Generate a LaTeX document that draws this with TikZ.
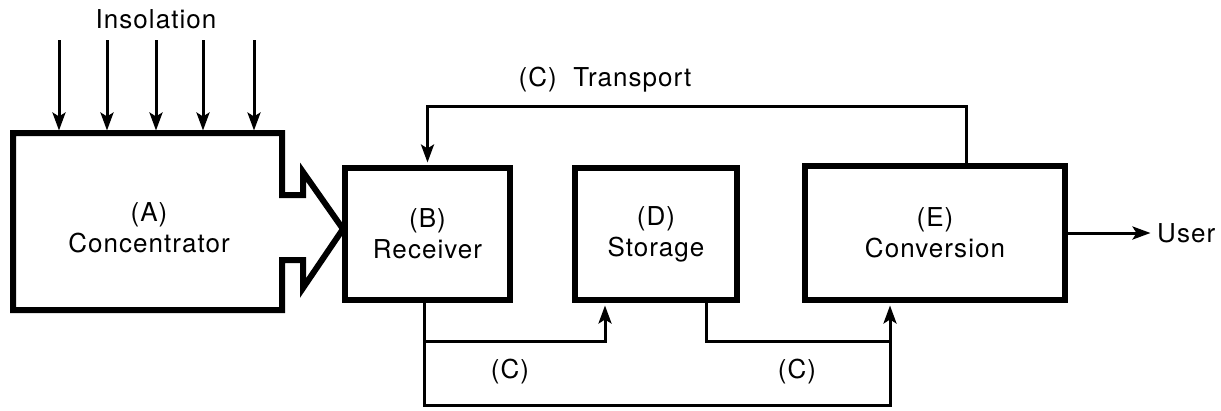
\documentclass[tikz,border=0pt]{standalone}
\usepackage{fontspec}
\setmainfont{TeX Gyre Heros}[LetterSpace=4]
\usetikzlibrary{arrows.meta}

\tikzset{
  box/.style={draw, line width=6pt, line join=miter, inner sep=0pt, align=center,
              font=\fontsize{26}{31}\selectfont},
  lbl/.style={inner sep=0pt, align=center, font=\fontsize{26}{31}\selectfont},
  wire/.style={line width=3pt, line join=miter},
  flow/.style={wire, shorten >=2.5pt, -{Stealth[length=18pt,width=13pt,inset=4pt]}},
}

\begin{document}
\begin{tikzpicture}[x=1pt,y=-1pt]
\useasboundingbox (0,0) rectangle (1221,410);

% concentrator outline with its funnel toward the receiver
\draw[line width=6pt, line join=miter]
  (13,133) -- (282,133) -- (282,195) -- (303,195) -- (303,172) -- (343,229)
  -- (303,288) -- (303,260) -- (282,260) -- (282,310) -- (13,310) -- cycle;
\node[lbl] (A) at (149,228) {(A)\\Concentrator};

% blocks
\node[box, minimum width=165pt, minimum height=132pt] (B) at (427.5,234) {(B)\\Receiver};
\node[box, minimum width=162pt, minimum height=132pt] (D) at (656,234) {(D)\\Storage};
\node[box, minimum width=260pt, minimum height=134pt] (E) at (935,233) {(E)\\Conversion};

% insolation
\node[lbl] (ins) at (156,19) {Insolation};
\foreach \x [count=\i] in {59,107,156,203,254} {
  \coordinate (s\i) at (\x,40);
  \coordinate (t\i) at (\x,133);
  \draw[flow] (s\i) -- (t\i);
}

% transport loop from conversion back to receiver
\node[lbl] (tr) at (605,80) {(C)\ \ Transport};
\draw[flow] ([xshift=31pt]E.north) -- ++(0,-57) -| (B.north);

% output to the user
\node[lbl, anchor=west] (U) at (1157,233) {User};
\draw[flow] (E.east) -- ([xshift=-4pt]U.west);

% lower transport lines
\coordinate (bo) at ([xshift=-3.5pt]B.south);
\coordinate (bb) at (424,405);
\coordinate (bm) at (424,341);
\coordinate (din) at ([xshift=-51pt]D.south);
\coordinate (dout) at ([xshift=50pt]D.south);
\coordinate (ein) at ([xshift=-45pt]E.south);
\coordinate (ej) at (890,341);
\draw[flow] (bo) -- (bb) -| (ein);
\draw[flow] (bm) -| (din);
\draw[wire] (dout) |- (ej);
\node[lbl] (c1) at (510,372) {(C)};
\node[lbl] (c2) at (797,372) {(C)};
\end{tikzpicture}
\end{document}
